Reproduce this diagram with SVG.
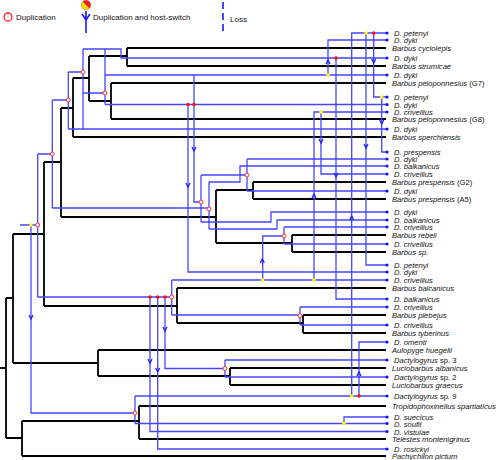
<svg xmlns="http://www.w3.org/2000/svg" width="500" height="460" viewBox="0 0 500 460">
<defs>
<style>
.h{fill:none;stroke:#000;stroke-width:1.8}
.p{fill:none;stroke:#4646ff;stroke-width:1.3}
.ar{fill:none;stroke:#2020ff;stroke-width:1.3}
.dup{fill:#fff;stroke:#ff3030;stroke-width:1}
.rd{fill:#ff1010}
.yd{fill:#ffff00}
.lf{fill:#1010ff}
text{font-family:"Liberation Sans",Arial,sans-serif;font-size:7.6px;fill:#111}
.i{font-style:italic}
</style>
</defs>
<rect width="500" height="460" fill="#fff"/>
<g id="legend">
<circle cx="8" cy="17" r="4" fill="#fff" stroke="#ff2020" stroke-width="1.3"/>
<text x="16" y="20" style="font-size:8px">Duplication</text>
<path d="M82.6,1.6 A4.6,4.6 0 0 0 89.4,8.4 Z" fill="#ffdd00"/>
<path d="M82.6,1.6 A4.6,4.6 0 0 1 89.4,8.4 Z" fill="#ff1a1a"/>
<circle cx="86" cy="5" r="4.6" fill="none" stroke="#a04040" stroke-width="0.4"/>
<path d="M86,11 V33 M82,14 L86,20 L90,14" fill="none" stroke="#1a1aff" stroke-width="1.6"/>
<text x="93" y="20" style="font-size:8px">Duplication and host-switch</text>
<path d="M223,2 V33" fill="none" stroke="#1a1aff" stroke-width="1.6" stroke-dasharray="7,4"/>
<text x="230" y="22" style="font-size:8px">Loss</text>
</g>
<g id="host-tree">
<path class="h" d="M0,368 H6 M6,298 V438 M6,298 H13 M13,234 V363 M13,234 H44 M44,162 V306 M44,162 H61 M61,108 V217 M61,108 H73 M73,78 V137 M73,78 H89 M89,56 V101 M89,56 H127 M127,48 V66 M127,48 H386 M127,66 H386 M89,101 H111 M111,83 V119 M111,83 H386 M111,119 H386 M73,137 H386 M61,217 H216 M216,190 V243 M216,190 H253 M253,182 V199 M253,182 H386 M253,199 H386 M216,243 H292 M292,235 V252 M292,235 H386 M292,252 H386 M44,306 H177 M177,288 V323 M177,288 H386 M177,323 H303 M303,315 V333 M303,315 H386 M303,333 H386 M13,363 H98 M98,350 V376 M98,350 H386 M98,376 H230 M230,368 V385 M230,368 H386 M230,385 H386 M6,438 H22 M22,421 V456 M22,421 H139 M139,406 V439 M139,406 H386 M139,439 H386 M22,456 H386"/>
</g>
<g id="connectors">
<path class="p" d="M20,225 H37.7 M37.7,154 V297 M37.7,154 H52.3 M52.3,100 V208 M52.3,100 H68.3 M68.3,72 V129 M68.3,129 H387 M68.3,72 H83 M83,49 V128.5 M83,49 H121 V58 H387 M83,93 H105 M105,49 V104.5 M105,75 H387 M105,104.5 H387 M52.3,208 H209 M209,182 V229 M209,182 H240 V166 H387 M209,229 H277 V220 H387 M194,75 V202 H201 M201,175 V222 M201,175 H247 M247,159 V191 M247,159 H387 M247,191 H387 M201,222 H271 V212 H387 M188,104.5 V272 H387 M37.7,297 H171.7 M171.7,280 V315 M171.7,280 H387 M171.7,315 H300 M300,307 V325 M300,307 H387 M300,325 H387 M150,297 V431.5 H387 M157.7,297 V449 H387 M165,297 V368.5 H225 M225,360 V377 M225,360 H387 M225,377 H387 M31,225 V413 H135 M135,396 V423.5 M135,396 H387 M135,423.5 H387 M344,423.5 V417 H387 M359,396 V342 H387 M351.7,396 V33 H387 M328,75 V40 H387 M336,58 V299 H387 M373.7,33 V97 H387 M366,33 V265 H387 M381.7,97 V152 H387 M321,112 V174 H387 M314,280 V112 H387 M262.7,280 V236 H284 M284,227 V244 M284,227 H387 M284,244 H387"/>
<path class="ar" d="M326,64 L328,60 L330,64 M334,173 L336,177 L338,173 M371.7,59 L373.7,63 L375.7,59 M364,144 L366,148 L368,144 M379.7,120 L381.7,124 L383.7,120 M319,139 L321,143 L323,139 M312,198 L314,194 L316,198 M349.7,220 L351.7,216 L353.7,220 M357,376 L359,372 L361,376 M192,147 L194,151 L196,147 M186,183 L188,187 L190,183 M260.3,263 L262.3,259 L264.3,263 M148,359 L150,363 L152,359 M155.7,368 L157.7,372 L159.7,368 M163,327 L165,331 L167,327 M29,315 L31,319 L33,315"/>
</g>
<g id="events">
<g class="dup">
<circle cx="37.7" cy="225" r="2"/><circle cx="52.3" cy="154" r="2"/><circle cx="68.3" cy="100" r="2"/><circle cx="83" cy="72" r="2"/><circle cx="105" cy="93" r="2"/><circle cx="209" cy="209" r="2"/><circle cx="201" cy="202" r="2"/><circle cx="247" cy="175" r="2"/><circle cx="171.7" cy="297" r="2"/><circle cx="300" cy="315.7" r="2"/><circle cx="225" cy="368.5" r="2"/><circle cx="135" cy="413" r="2"/><circle cx="284" cy="236" r="2"/>
</g>
<g class="rd">
<circle cx="336" cy="58" r="1.8"/><circle cx="373.7" cy="33" r="1.8"/><circle cx="188" cy="104.5" r="1.8"/><circle cx="194" cy="104.5" r="1.8"/><circle cx="150" cy="297" r="1.8"/><circle cx="157.7" cy="297" r="1.8"/><circle cx="165" cy="297" r="1.8"/><circle cx="359" cy="396" r="1.8"/>
</g>
<g class="yd">
<circle cx="328" cy="75" r="1.8"/><circle cx="366" cy="33" r="1.8"/><circle cx="381.7" cy="97" r="1.8"/><circle cx="321" cy="112" r="1.8"/><circle cx="314" cy="280" r="1.8"/><circle cx="262.7" cy="280" r="1.8"/><circle cx="351.7" cy="396" r="1.8"/><circle cx="344" cy="423.5" r="1.8"/><circle cx="31" cy="225" r="1.8"/>
</g>
<g class="lf">
<circle cx="387" cy="33" r="1.6"/><circle cx="387" cy="40" r="1.6"/><circle cx="387" cy="58" r="1.6"/><circle cx="387" cy="75" r="1.6"/><circle cx="387" cy="97" r="1.6"/><circle cx="387" cy="104.5" r="1.6"/><circle cx="387" cy="112" r="1.6"/><circle cx="387" cy="129" r="1.6"/><circle cx="387" cy="152" r="1.6"/><circle cx="387" cy="159" r="1.6"/><circle cx="387" cy="166" r="1.6"/><circle cx="387" cy="174" r="1.6"/><circle cx="387" cy="191" r="1.6"/><circle cx="387" cy="212" r="1.6"/><circle cx="387" cy="220" r="1.6"/><circle cx="387" cy="227" r="1.6"/><circle cx="387" cy="244" r="1.6"/><circle cx="387" cy="265" r="1.6"/><circle cx="387" cy="272" r="1.6"/><circle cx="387" cy="280" r="1.6"/><circle cx="387" cy="299" r="1.6"/><circle cx="387" cy="307" r="1.6"/><circle cx="387" cy="325" r="1.6"/><circle cx="387" cy="342" r="1.6"/><circle cx="387" cy="360" r="1.6"/><circle cx="387" cy="377" r="1.6"/><circle cx="387" cy="396" r="1.6"/><circle cx="387" cy="417" r="1.6"/><circle cx="387" cy="423.5" r="1.6"/><circle cx="387" cy="431.5" r="1.6"/><circle cx="387" cy="449" r="1.6"/>
</g>
</g>
<g id="labels">
<text x="394" y="36" class="i">D. petenyi</text>
<text x="394" y="43" class="i">D. dyki</text>
<text x="392" y="51" class="i">Barbus cyclolepis</text>
<text x="394" y="61" class="i">D. dyki</text>
<text x="392" y="69" class="i">Barbus strumicae</text>
<text x="394" y="78" class="i">D. dyki</text>
<text x="392" y="86"><tspan class="i">Barbus peloponnesius</tspan>  (G7)</text>
<text x="394" y="100" class="i">D. petenyi</text>
<text x="394" y="107.5" class="i">D. dyki</text>
<text x="394" y="115" class="i">D. crivellius</text>
<text x="392" y="122"><tspan class="i">Barbus peloponnesius</tspan>  (G8)</text>
<text x="394" y="132" class="i">D. dyki</text>
<text x="392" y="140" class="i">Barbus sperchiensis</text>
<text x="394" y="155" class="i">D. prespensis</text>
<text x="394" y="162" class="i">D. dyki</text>
<text x="394" y="169" class="i">D. balkanicus</text>
<text x="394" y="177" class="i">D. crivellius</text>
<text x="392" y="185"><tspan class="i">Barbus prespensis</tspan> (G2)</text>
<text x="394" y="194" class="i">D. dyki</text>
<text x="392" y="202"><tspan class="i">Barbus prespensis</tspan> (A5)</text>
<text x="394" y="215" class="i">D. dyki</text>
<text x="394" y="223" class="i">D. balkanicus</text>
<text x="394" y="230" class="i">D. crivellius</text>
<text x="392" y="238" class="i">Barbus rebeli</text>
<text x="394" y="247" class="i">D. crivellius</text>
<text x="392" y="255" class="i">Barbus sp.</text>
<text x="394" y="268" class="i">D. petenyi</text>
<text x="394" y="275" class="i">D. dyki</text>
<text x="394" y="283" class="i">D. crivellius</text>
<text x="392" y="291" class="i">Barbus balcanicus</text>
<text x="394" y="302" class="i">D. balkanicus</text>
<text x="394" y="310" class="i">D. crivellius</text>
<text x="392" y="318" class="i">Barbus plebejus</text>
<text x="394" y="328" class="i">D. crivellius</text>
<text x="392" y="336" class="i">Barbus tyberinus</text>
<text x="394" y="345" class="i">D. omenti</text>
<text x="392" y="353" class="i">Aulopyge huegelii</text>
<text x="394" y="363"><tspan class="i">Dactylogyrus</tspan> sp. 3</text>
<text x="392" y="371" class="i">Luciobarbus albanicus</text>
<text x="394" y="380"><tspan class="i">Dactylogyrus</tspan> sp. 2</text>
<text x="392" y="388" class="i">Luciobarbus graecus</text>
<text x="394" y="399"><tspan class="i">Dactylogyrus</tspan> sp. 9</text>
<text x="392" y="409" class="i">Tropidophoxinellus spartiaticus</text>
<text x="394" y="420" class="i">D. suecicus</text>
<text x="394" y="426.5" class="i">D. soufii</text>
<text x="394" y="434.5" class="i">D. vistulae</text>
<text x="392" y="442" class="i">Telestes montenigrinus</text>
<text x="394" y="452" class="i">D. rosickyi</text>
<text x="392" y="459" class="i">Pachychilon pictum</text>
</g>
</svg>
